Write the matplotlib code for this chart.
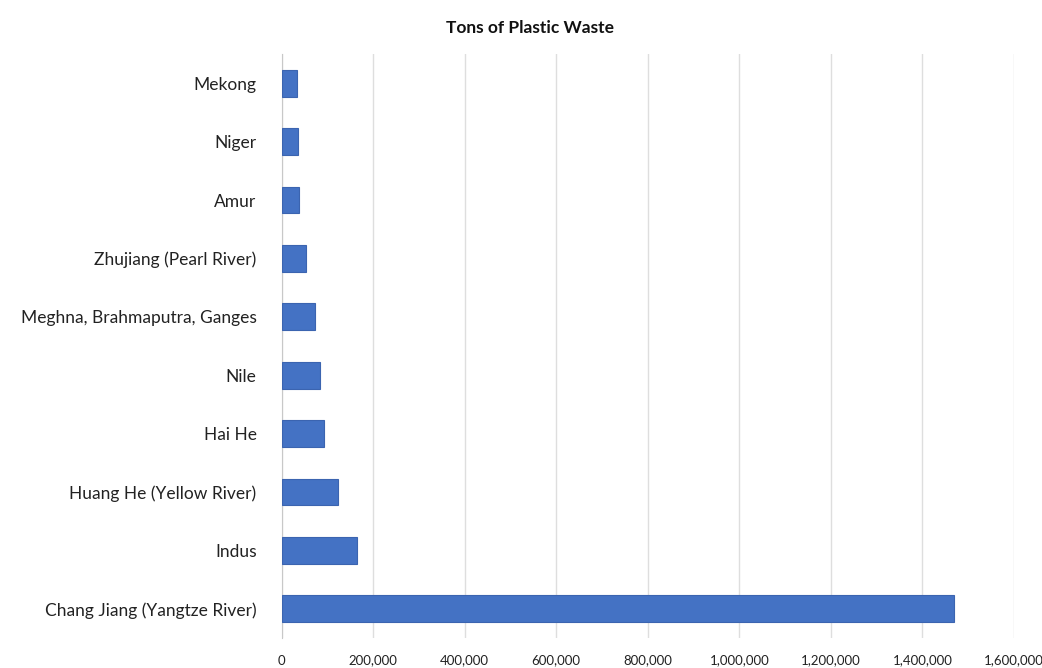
import matplotlib
matplotlib.use("Agg")
import matplotlib.pyplot as plt
from matplotlib.ticker import FuncFormatter

rivers = ["Chang Jiang (Yangtze River)", "Indus", "Huang He (Yellow River)", "Hai He",
          "Nile", "Meghna, Brahmaputra, Ganges", "Zhujiang (Pearl River)", "Amur",
          "Niger", "Mekong"]
tons = [1469481, 164332, 124249, 91882, 84792, 72845, 52958, 38267, 35196, 33431]
xticks = [0, 200000, 400000, 600000, 800000, 1000000, 1200000, 1400000, 1600000]

plt.rcParams['font.family'] = ['Lato', 'DejaVu Sans']

fig = plt.figure(figsize=(10.42, 6.68), dpi=100)
ax = fig.add_axes([0.2702, 0.045, 0.7029, 0.874])

ax.barh(range(len(rivers)), tons, height=0.46, color="#4472c4",
        edgecolor="#3b64b0", linewidth=0.8, zorder=3)

ax.set_xlim(0, 1600000)
ax.set_ylim(-0.5, len(rivers) - 0.5)
ax.set_yticks(range(len(rivers)))
ax.set_yticklabels(rivers, fontsize=12.5, color="#222222")
ax.set_xticks(xticks)
ax.xaxis.set_major_formatter(FuncFormatter(lambda v, p: f"{int(v):,}"))
ax.tick_params(axis="x", labelsize=9.5, length=0, pad=12, colors="#222222")
ax.tick_params(axis="y", length=0, pad=18)

ax.grid(axis="x", color="#dedede", linewidth=1, zorder=0)
for s in ["top", "right", "bottom"]:
    ax.spines[s].set_visible(False)
ax.spines["left"].set_color("#c8c8c8")

fig.text(0.5087, 0.958, "Tons of Plastic Waste", ha="center", va="center",
         fontsize=12.5, fontweight="bold", color="#111111")

fig.savefig("out.png", dpi=100)
